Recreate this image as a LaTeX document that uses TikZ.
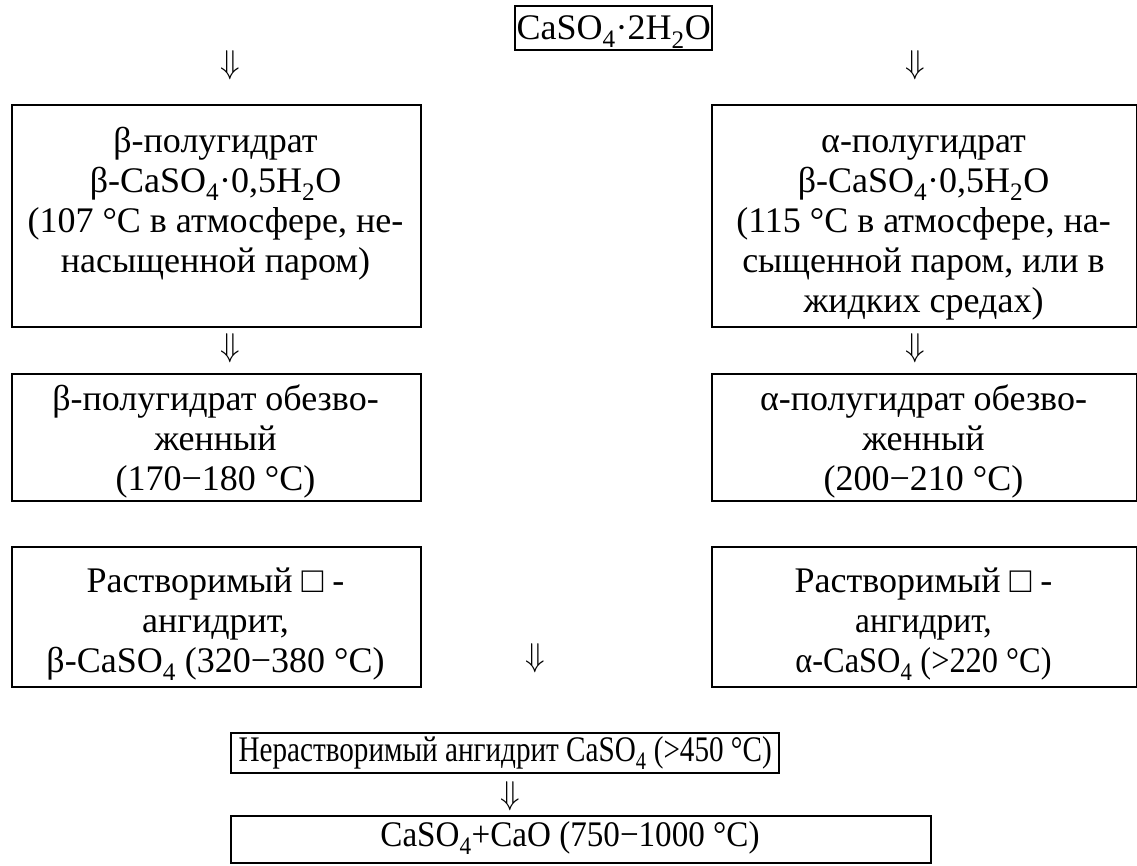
\documentclass[tikz,border=0pt]{standalone}
\usepackage{fontspec}
\usepackage{graphicx}
\setmainfont{Liberation Serif}
\newcommand{\fsz}{\fontsize{36}{40}\selectfont}
\newcommand{\dnarrow}{\scalebox{3.2}[3.3]{$\Downarrow$}}
\newcommand{\sbs}[1]{\smash{\textsubscript{#1}}}
\begin{document}
\begin{tikzpicture}[x=1pt,y=-1pt,
  box/.style={draw, line width=2.4pt, inner sep=0pt, anchor=north west},
  txt/.style={align=center, inner sep=0pt, anchor=north, font=\fsz},
  lbl/.style={box, font=\fsz},
  arr/.style={inner sep=0pt, font=\normalsize}]
\useasboundingbox (0,0) rectangle (1137,865);
% top
\node[lbl, minimum width=197pt, minimum height=44pt] (top) at (514,5) {CaSO\sbs{4}·2H\sbs{2}O};
\node[arr] (d1) at (230,65) {\dnarrow};
\node[arr] (d2) at (915,65) {\dnarrow};
% row 1
\node[box, minimum width=409pt, minimum height=222pt] (b1) at (11,104) {};
\node[txt] (t1) at (215.5,124) {\strut β-полугидрат\\β-CaSO\sbs{4}·0,5H\sbs{2}O\\(107 °C в атмосфере, не-\\насыщенной паром)};
\node[box, minimum width=425pt, minimum height=222pt] (b2) at (711,104) {};
\node[txt] (t2) at (923.5,124) {\strut α-полугидрат\\β-CaSO\sbs{4}·0,5H\sbs{2}O\\(115 °C в атмосфере, на-\\сыщенной паром, или в\\жидких средах)};
\node[arr] (d3) at (230,348) {\dnarrow};
\node[arr] (d4) at (915,348) {\dnarrow};
% row 2
\node[box, minimum width=409pt, minimum height=127pt] (b3) at (11,373) {};
\node[txt] (t3) at (215.5,382) {\strut β-полугидрат обезво-\\женный\\(170−180 °C)};
\node[box, minimum width=425pt, minimum height=127pt] (b4) at (711,373) {};
\node[txt] (t4) at (923.5,382) {\strut α-полугидрат обезво-\\женный\\(200−210 °C)};
% row 3
\node[box, minimum width=409pt, minimum height=140pt] (b5) at (11,546) {};
\node[txt] (t5) at (215.5,564) {\strut Растворимый □ -\\ангидрит,\\β-CaSO\sbs{4} (320−380 °C)};
\node[box, minimum width=425pt, minimum height=140pt] (b6) at (711,546) {};
\node[txt] (t6) at (923.5,564) {\strut Растворимый □ -\\\scalebox{0.93}[1]{ангидрит,}\\\scalebox{0.9}[1]{α-CaSO\sbs{4} (>220 °C)}};
\node[arr] (d5) at (535,658) {\dnarrow};
% bottom
\node[lbl, minimum width=548pt, minimum height=40pt] (b7) at (230,732) {\scalebox{0.81}[1]{Нерастворимый ангидрит CaSO\sbs{4} (>450 °C)}};
\node[arr] (d6) at (510,796) {\dnarrow};
\node[box, minimum width=700pt, minimum height=47pt] (b8) at (230,815) {};
\node[font=\fsz, inner sep=0pt] (t8) at (570,838) {\scalebox{0.92}[1]{CaSO\sbs{4}+CaO (750−1000 °C)}};
\end{tikzpicture}
\end{document}
